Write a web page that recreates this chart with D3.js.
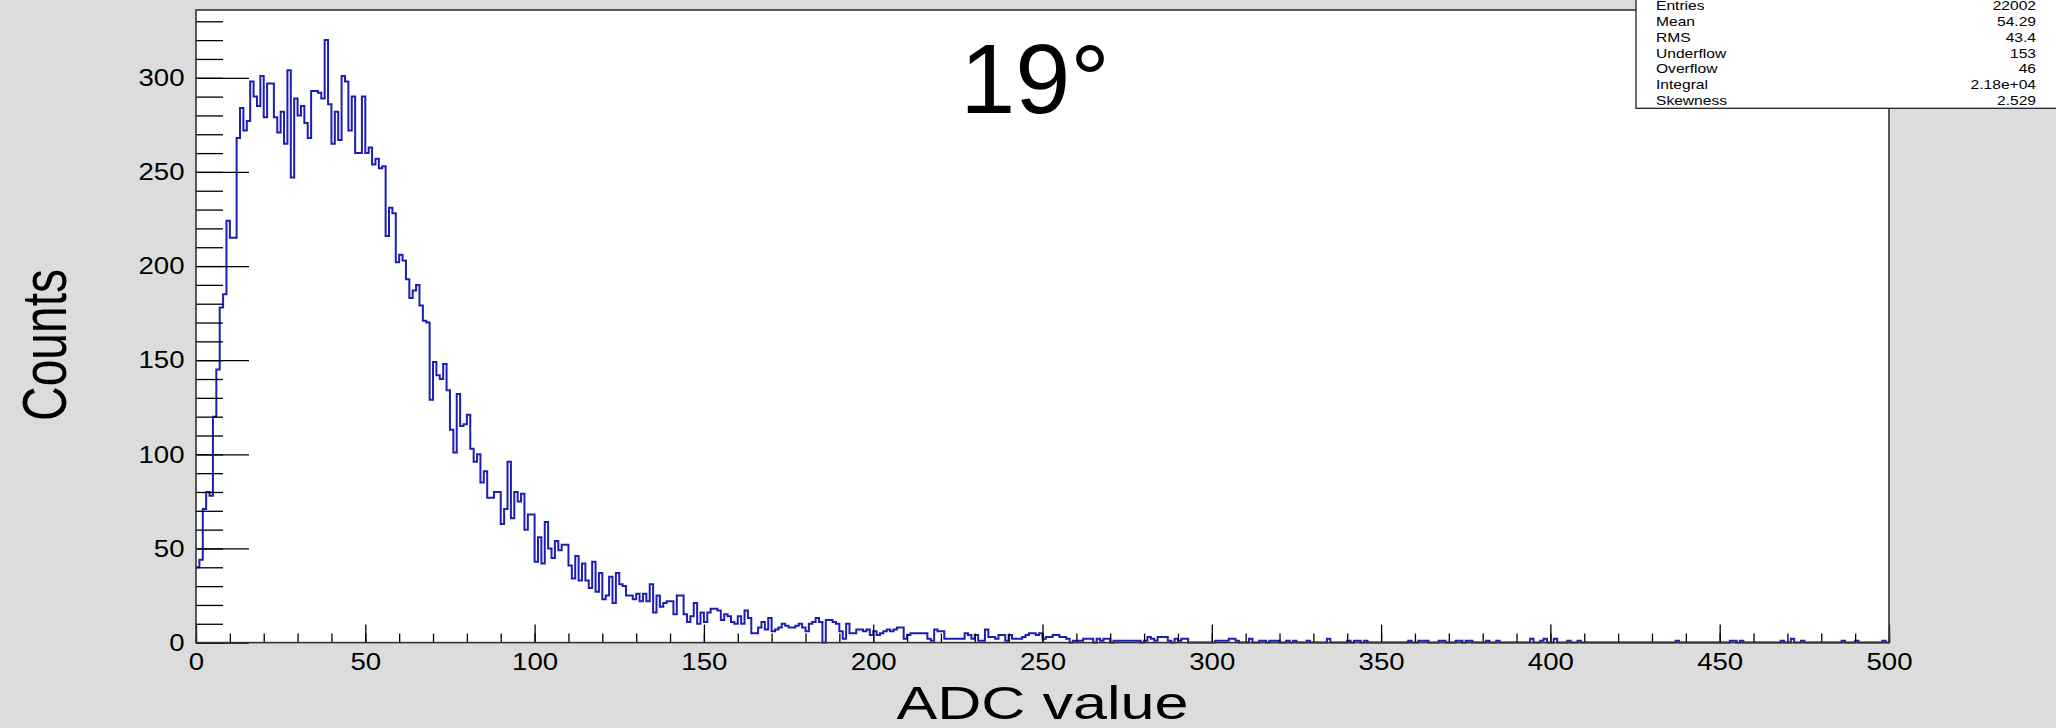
<!DOCTYPE html>
<html lang="en">
<head>
  <meta charset="UTF-8">
  <title>19° ADC spectrum</title>
  <script src="https://d3js.org/d3.v7.min.js"></script>
  <style>
    body {
      margin: 0;
      background: #dcdcdc;
    }

    svg {
      display: block;
      font-family: 'Liberation Sans', Arial, sans-serif;
    }

    .axis path.domain {
      display: none;
    }

    .axis line {
      stroke: #000;
      stroke-width: 1.3;
    }

    .axis text {
      font-size: 24px;
      fill: #000;
    }
  </style>
</head>
<body>
  <svg width="2056" height="728"></svg>

  <script>
    // counts per 1-unit ADC bin
    const counts000 = [
      40, 44, 71, 80, 78, 120, 145, 178, 185, 224,
      215, 215, 268, 284, 272, 277, 298, 290, 285, 301,
      279, 297, 297, 279, 271, 282, 265, 304, 247, 289,
      280, 285, 276, 268, 293, 293, 292, 289, 320, 286,
      265, 282, 267, 301, 298, 272, 290, 260, 260, 290,
      260, 263, 254, 257, 252, 253, 216, 231, 228, 202,
      206, 203, 193, 183, 187, 190, 179, 171, 170, 129,
      149, 142, 140, 148, 134, 113, 101, 132, 115, 116,
      121, 103, 96, 100, 85, 91, 77, 77, 80, 80,
      63, 71, 96, 66, 80, 75, 79, 60, 68, 68
    ];
    const counts100 = [
      43, 56, 42, 64, 50, 45, 54, 49, 52, 52,
      41, 34, 46, 33, 42, 33, 29, 43, 27, 37,
      23, 25, 35, 21, 37, 31, 30, 25, 25, 23,
      26, 22, 26, 22, 31, 16, 25, 19, 21, 22,
      22, 15, 25, 25, 15, 11, 14, 21, 10, 16,
      11, 16, 18, 18, 17, 12, 15, 14, 11, 10,
      14, 10, 17, 13, 5, 5, 8, 11, 7, 13,
      6, 7, 8, 10, 9, 8, 8, 9, 10, 8,
      6, 10, 11, 13, 11, 0, 12, 12, 11, 10,
      6, 2, 10, 5, 5, 7, 7, 6, 7, 4
    ];
    const counts200 = [
      6, 4, 5, 6, 7, 6, 7, 8, 8, 2,
      4, 5, 5, 5, 5, 5, 2, 1, 7, 6,
      6, 2, 2, 2, 2, 2, 2, 5, 4, 2,
      4, 1, 1, 7, 3, 3, 2, 4, 4, 1,
      4, 2, 2, 2, 3, 4, 5, 5, 4, 5,
      2, 3, 3, 4, 4, 3, 3, 2, 0, 1,
      1, 1, 2, 2, 2, 0, 2, 1, 2, 2,
      0, 1, 1, 1, 1, 1, 1, 1, 1, 0,
      1, 3, 2, 1, 3, 3, 3, 1, 0, 2,
      1, 2, 2, 0, 0, 0, 0, 0, 0, 0
    ];
    const counts300 = [
      0, 1, 1, 1, 1, 2, 2, 1, 0, 0,
      0, 2, 0, 0, 1, 1, 0, 1, 1, 1,
      0, 0, 1, 0, 1, 0, 0, 0, 1, 0,
      0, 0, 0, 0, 2, 0, 0, 0, 0, 0,
      1, 0, 1, 1, 0, 1, 0, 0, 0, 0,
      0, 0, 0, 0, 0, 0, 0, 0, 1, 0,
      0, 1, 1, 1, 0, 0, 0, 1, 1, 0,
      0, 0, 1, 1, 0, 1, 1, 0, 0, 0,
      0, 1, 0, 0, 1, 0, 0, 0, 0, 0,
      0, 0, 0, 0, 2, 0, 0, 1, 2, 0
    ];
    const counts400 = [
      0, 2, 0, 0, 0, 1, 0, 0, 1, 0,
      0, 0, 0, 0, 0, 0, 0, 0, 0, 0,
      0, 0, 0, 0, 0, 0, 0, 0, 0, 0,
      0, 0, 0, 0, 0, 0, 0, 1, 0, 0,
      0, 0, 0, 0, 0, 0, 0, 0, 0, 0,
      0, 0, 0, 1, 1, 0, 1, 0, 0, 0,
      0, 0, 0, 0, 0, 0, 0, 0, 1, 0,
      0, 2, 0, 0, 1, 0, 0, 0, 0, 0,
      0, 0, 0, 0, 0, 0, 1, 0, 0, 0,
      1, 0, 0, 0, 0, 0, 0, 0, 1, 0
    ];

    const xTickValues = [0, 50, 100, 150, 200, 250, 300, 350, 400, 450, 500];
    const yTickValues = [0, 50, 100, 150, 200, 250, 300];

    const statLabels = ['Entries', 'Mean', 'RMS', 'Underflow', 'Overflow', 'Integral', 'Skewness'];
    const statValues = ['22002', '54.29', '43.4', '153', '46', '2.18e+04', '2.529'];

    const title = '19°';
    const xTitle = 'ADC value';
    const yTitle = 'Counts';

    const counts = [].concat(counts000, counts100, counts200, counts300, counts400);

    const frame = { left: 196, right: 1889, top: 10, bottom: 642.6 };
    const lineColor = '#1e1eb4';

    const svg = d3.select('svg');

    const x = d3.scaleLinear()
      .domain([0, counts.length])
      .range([frame.left, frame.right]);

    const y = d3.scaleLinear()
      .domain([0, d3.max(counts) * 1.05])
      .range([frame.bottom, frame.top]);

    // pad and frame
    svg.append('rect')
      .attr('width', 2056)
      .attr('height', 728)
      .attr('fill', '#dcdcdc');

    svg.append('rect')
      .attr('x', frame.left)
      .attr('y', frame.top)
      .attr('width', frame.right - frame.left)
      .attr('height', frame.bottom - frame.top)
      .attr('fill', '#fff');

    // histogram outline
    const steps = counts.map((c, i) => [i, c]);
    steps.push([counts.length, counts[counts.length - 1]]);

    const line = d3.line()
      .x(d => x(d[0]))
      .y(d => y(d[1]))
      .curve(d3.curveStepAfter);

    svg.append('path')
      .datum(steps)
      .attr('d', line)
      .attr('fill', 'none')
      .attr('stroke', lineColor)
      .attr('stroke-width', 2);

    // x axis: minor ticks every 10, major every 50
    svg.append('g')
      .attr('class', 'axis')
      .attr('transform', `translate(0, ${frame.bottom})`)
      .call(d3.axisBottom(x).tickValues(x.ticks(50)).tickSize(-9).tickSizeOuter(0).tickFormat(''));

    svg.append('g')
      .attr('class', 'axis')
      .attr('transform', `translate(0, ${frame.bottom})`)
      .call(d3.axisBottom(x).tickValues(xTickValues).tickSize(-18).tickSizeOuter(0).tickPadding(10))
      .selectAll('text')
      .attr('transform', 'scale(1.15, 1)');

    // y axis: minor ticks every 10, major every 50
    svg.append('g')
      .attr('class', 'axis')
      .attr('transform', `translate(${frame.left}, 0)`)
      .call(d3.axisLeft(y).tickValues(y.ticks(40).filter(v => v <= y.domain()[1])).tickSize(-27).tickSizeOuter(0).tickFormat(''));

    svg.append('g')
      .attr('class', 'axis')
      .attr('transform', `translate(${frame.left}, 0)`)
      .call(d3.axisLeft(y).tickValues(yTickValues).tickSize(-53).tickSizeOuter(0).tickPadding(10))
      .selectAll('text')
      .attr('transform', 'scale(1.15, 1)');

    svg.append('rect')
      .attr('x', frame.left)
      .attr('y', frame.top)
      .attr('width', frame.right - frame.left)
      .attr('height', frame.bottom - frame.top)
      .attr('fill', 'none')
      .attr('stroke', '#333')
      .attr('stroke-width', 1.6);

    // axis titles
    svg.append('text')
      .attr('transform', `translate(${(frame.left + frame.right) / 2}, 719) scale(1.3, 1)`)
      .attr('text-anchor', 'middle')
      .style('font-size', '47px')
      .text(xTitle);

    svg.append('text')
      .attr('transform', 'translate(66, 345) scale(1.3, 1) rotate(-90)')
      .attr('text-anchor', 'middle')
      .style('font-size', '48px')
      .text(yTitle);

    // title
    svg.append('text')
      .attr('x', 1035)
      .attr('y', 112.7)
      .attr('text-anchor', 'middle')
      .style('font-size', '99px')
      .text(title);

    // stats box
    svg.append('rect')
      .attr('x', 1636)
      .attr('y', -10)
      .attr('width', 440)
      .attr('height', 118.3)
      .attr('fill', '#fff')
      .attr('stroke', '#222')
      .attr('stroke-width', 1.3);

    const row = d3.scalePoint()
      .domain(statLabels)
      .range([10, 105]);

    const stats = svg.append('g')
      .style('font-size', '12px');

    stats.selectAll('.stat-label')
      .data(statLabels)
      .enter()
      .append('text')
      .attr('class', 'stat-label')
      .attr('transform', d => `translate(1656, ${row(d)}) scale(1.3, 1)`)
      .text(d => d);

    stats.selectAll('.stat-value')
      .data(statValues)
      .enter()
      .append('text')
      .attr('class', 'stat-value')
      .attr('text-anchor', 'end')
      .attr('transform', (d, i) => `translate(2036, ${row(statLabels[i])}) scale(1.3, 1)`)
      .text(d => d);
  </script>
</body>
</html>
